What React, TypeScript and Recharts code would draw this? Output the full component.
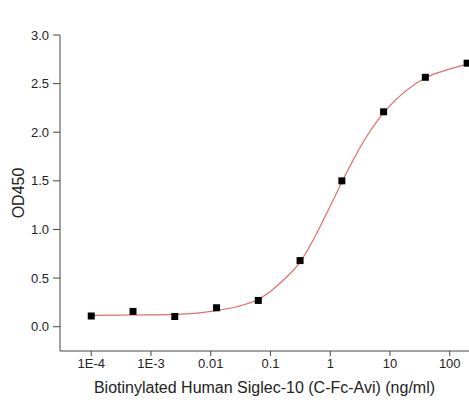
import { ComposedChart, Line, Scatter, XAxis, YAxis, ZAxis, Label } from 'recharts';

// measured points (ng/ml vs OD450)
const doses = [0.0001, 0.0005, 0.0025, 0.0125, 0.0625, 0.3125, 1.5625, 7.8125, 39.0625, 195.3125];
const od450 = [0.11, 0.157, 0.105, 0.195, 0.27, 0.68, 1.5, 2.21, 2.565, 2.71];

// fitted curve
const fitX = [0.0001, 0.0005, 0.0025, 0.0126, 0.027, 0.063, 0.098, 0.145, 0.325, 0.521, 0.873, 1.127, 1.6, 2.43, 4.07, 6.0, 8, 41, 90, 195];
const fitY = [0.116, 0.12, 0.127, 0.165, 0.205, 0.282, 0.36, 0.449, 0.68, 0.894, 1.168, 1.305, 1.5, 1.716, 1.956, 2.11, 2.207, 2.566, 2.641, 2.7];

const xTicks = [0.0001, 0.001, 0.01, 0.1, 1, 10, 100];
const xTickLabels = ['1E-4', '1E-3', '0.01', '0.1', '1', '10', '100'];
const yTicks = [0, 0.5, 1, 1.5, 2, 2.5, 3];
const yMinorTicks = [-0.25, 0.25, 0.75, 1.25, 1.75, 2.25, 2.75];

const X_DOMAIN = [3e-5, 210];
const Y_DOMAIN = [-0.25, 3];

const xMinorTicks: number[] = [];
for (let e = -5; e <= 2; e++) {
    for (let m = 2; m <= 9; m++) {
        const v = m * Math.pow(10, e);
        if (v >= X_DOMAIN[0] && v <= X_DOMAIN[1]) xMinorTicks.push(v);
    }
}

const points = doses.map((x, i) => ({ x, y: od450[i] }));
const fit = fitX.map((x, i) => ({ x, y: fitY[i] }));

const FONT = '"Liberation Sans", Arial, sans-serif';
const AXIS = '#444';
const TEXT = '#222';

export default function App() {
    return (
        <div style={{ width: 469, height: 405, fontFamily: FONT, background: '#fff' }}>
            <style>{'html,body{margin:0;padding:0;overflow:hidden;background:#fff}'}</style>
            <ComposedChart width={469} height={405} margin={{ top: 35, right: 0, bottom: 0, left: 0 }}>
                <XAxis
                    xAxisId="minor"
                    dataKey="x"
                    type="number"
                    scale="log"
                    domain={X_DOMAIN}
                    allowDataOverflow
                    ticks={xMinorTicks}
                    tick={false}
                    tickSize={3}
                    tickLine={{ stroke: AXIS }}
                    axisLine={false}
                    height={0}
                />
                <XAxis
                    dataKey="x"
                    type="number"
                    scale="log"
                    domain={X_DOMAIN}
                    ticks={xTicks}
                    tickFormatter={(v) => xTickLabels[xTicks.indexOf(v)] ?? ''}
                    tick={{ fill: TEXT, fontSize: 13, fontFamily: FONT }}
                    tickSize={5}
                    tickMargin={3}
                    tickLine={{ stroke: AXIS }}
                    axisLine={{ stroke: AXIS }}
                    height={54}
                >
                    <Label
                        value="Biotinylated Human Siglec-10 (C-Fc-Avi) (ng/ml)"
                        position="insideBottom"
                        offset={12}
                        style={{ fill: TEXT, fontSize: 16, fontFamily: FONT }}
                    />
                </XAxis>
                <YAxis
                    yAxisId="minor"
                    type="number"
                    domain={Y_DOMAIN}
                    allowDataOverflow
                    ticks={yMinorTicks}
                    tick={false}
                    tickSize={4}
                    tickLine={{ stroke: AXIS }}
                    axisLine={false}
                    width={0}
                />
                <YAxis
                    type="number"
                    domain={Y_DOMAIN}
                    ticks={yTicks}
                    tickFormatter={(v) => Number(v).toFixed(1)}
                    tick={{ fill: TEXT, fontSize: 13, fontFamily: FONT }}
                    tickSize={7}
                    tickMargin={4}
                    tickLine={{ stroke: AXIS }}
                    axisLine={{ stroke: AXIS }}
                    width={60}
                >
                    <Label
                        value="OD450"
                        angle={-90}
                        position="insideLeft"
                        offset={18}
                        style={{ fill: TEXT, fontSize: 16, fontFamily: FONT, textAnchor: 'middle' }}
                    />
                </YAxis>
                <ZAxis range={[49, 49]} />
                <Line
                    data={fit}
                    dataKey="y"
                    type="monotone"
                    stroke="#e36d6d"
                    strokeWidth={1.2}
                    dot={false}
                    activeDot={false}
                    isAnimationActive={false}
                />
                <Scatter data={points} dataKey="y" fill="#000" shape="square" isAnimationActive={false} />
            </ComposedChart>
        </div>
    );
}
